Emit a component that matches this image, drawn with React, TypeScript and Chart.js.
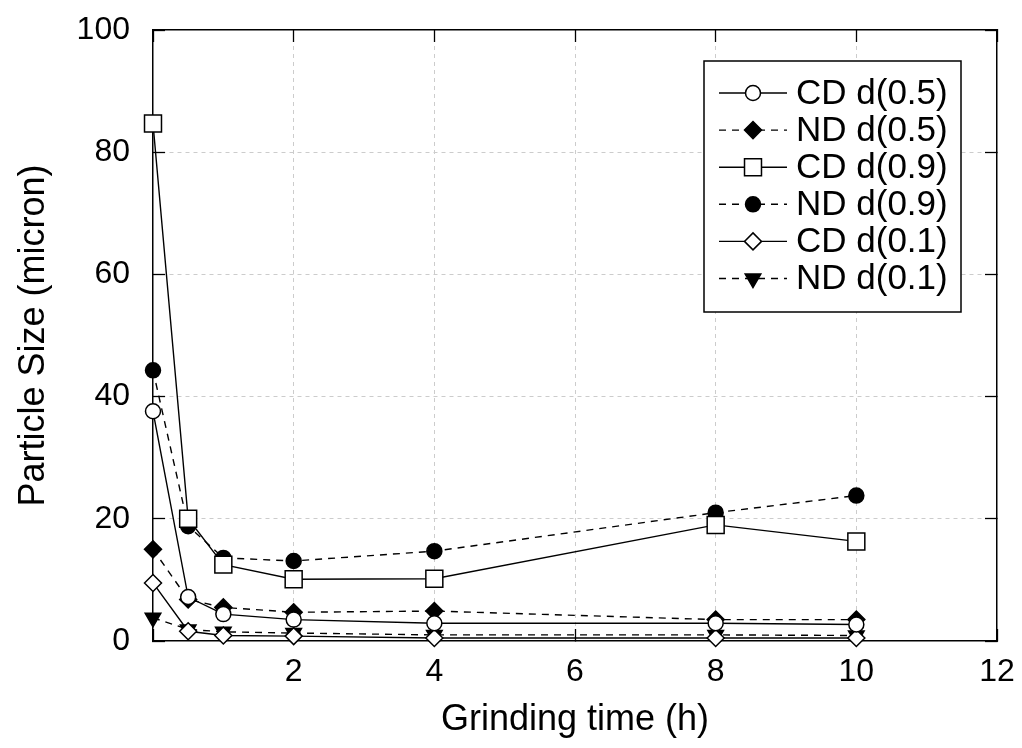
import React, { useEffect, useRef } from 'react';
import { Chart, registerables } from 'chart.js';

Chart.register(...registerables);

// ---- data ----
const grindingTime = [0, 0.5, 1, 2, 4, 8, 10];
const cdD05 = [37.6, 7.2, 4.4, 3.5, 2.9, 2.9, 2.7];
const ndD05 = [15.0, 6.8, 5.5, 4.7, 4.9, 3.5, 3.5];
const cdD09 = [84.7, 20.0, 12.5, 10.1, 10.2, 19.0, 16.3];
const ndD09 = [44.3, 18.8, 13.6, 13.1, 14.7, 21.0, 23.8];
const cdD01 = [9.5, 1.6, 0.9, 0.8, 0.5, 0.5, 0.5];
const ndD01 = [3.8, 1.9, 1.5, 1.3, 1.0, 1.0, 0.9];
const seriesLabels = ['CD d(0.5)', 'ND d(0.5)', 'CD d(0.9)', 'ND d(0.9)', 'CD d(0.1)', 'ND d(0.1)'];
const seriesValues = [cdD05, ndD05, cdD09, ndD09, cdD01, ndD01];
const xAxisTitle = 'Grinding time (h)';
const yAxisTitle = 'Particle Size (micron)';
const xMin = 0, xMax = 12, xStep = 2;
const yMin = 0, yMax = 100, yStep = 20;

// ---- styles ----
const FONT = "'Liberation Sans', Arial, Helvetica, sans-serif";
type SeriesStyle = { pointStyle: string; radius: number; filled: boolean; dashed: boolean; rotation: number };
const seriesStyles: SeriesStyle[] = [
  { pointStyle: 'circle', radius: 7.5, filled: false, dashed: false, rotation: 0 },
  { pointStyle: 'rectRot', radius: 8.5, filled: true, dashed: true, rotation: 0 },
  { pointStyle: 'rect', radius: 12, filled: false, dashed: false, rotation: 0 },
  { pointStyle: 'circle', radius: 7.5, filled: true, dashed: true, rotation: 0 },
  { pointStyle: 'rectRot', radius: 8.5, filled: false, dashed: false, rotation: 0 },
  { pointStyle: 'triangle', radius: 9, filled: true, dashed: true, rotation: 180 },
];
const DASH = [7, 6];

function drawMarker(ctx: CanvasRenderingContext2D, st: SeriesStyle, x: number, y: number) {
  const r = st.radius;
  ctx.save();
  ctx.beginPath();
  if (st.pointStyle === 'circle') {
    ctx.arc(x, y, r, 0, Math.PI * 2);
  } else if (st.pointStyle === 'rect') {
    const s = r * Math.SQRT1_2;
    ctx.rect(x - s, y - s, 2 * s, 2 * s);
  } else if (st.pointStyle === 'rectRot') {
    ctx.moveTo(x, y - r);
    ctx.lineTo(x + r, y);
    ctx.lineTo(x, y + r);
    ctx.lineTo(x - r, y);
    ctx.closePath();
  } else if (st.pointStyle === 'triangle') {
    let rad = (st.rotation * Math.PI) / 180;
    ctx.moveTo(x + Math.sin(rad) * r, y - Math.cos(rad) * r);
    rad += (2 * Math.PI) / 3;
    ctx.lineTo(x + Math.sin(rad) * r, y - Math.cos(rad) * r);
    rad += (2 * Math.PI) / 3;
    ctx.lineTo(x + Math.sin(rad) * r, y - Math.cos(rad) * r);
    ctx.closePath();
  }
  ctx.setLineDash([]);
  ctx.fillStyle = st.filled ? '#000' : '#fff';
  ctx.strokeStyle = '#000';
  ctx.lineWidth = 1.5;
  ctx.fill();
  ctx.stroke();
  ctx.restore();
}

const boxLegendPlugin = {
  id: 'boxLegend',
  afterDatasetsDraw(chart: any) {
    const ctx: CanvasRenderingContext2D = chart.ctx;
    const bx = 704, by = 61, bw = 257, bh = 251;
    ctx.save();
    ctx.fillStyle = '#fff';
    ctx.fillRect(bx, by, bw, bh);
    ctx.strokeStyle = '#000';
    ctx.lineWidth = 1.5;
    ctx.strokeRect(bx, by, bw, bh);
    const rowY0 = 93, rowStep = 37.1;
    chart.data.datasets.forEach((ds: any, i: number) => {
      const st = seriesStyles[i];
      const y = rowY0 + i * rowStep;
      ctx.save();
      ctx.beginPath();
      ctx.strokeStyle = '#000';
      ctx.lineWidth = 1.4;
      ctx.setLineDash(st.dashed ? DASH : []);
      ctx.moveTo(719, y);
      ctx.lineTo(787, y);
      ctx.stroke();
      ctx.restore();
      drawMarker(ctx, st, 753, y);
      ctx.fillStyle = '#000';
      ctx.font = `35px ${FONT}`;
      ctx.textAlign = 'left';
      ctx.textBaseline = 'middle';
      ctx.fillText(ds.label, 796, y + 1);
    });
    ctx.restore();
  },
};

export default function App() {
  const canvasRef = useRef<HTMLCanvasElement | null>(null);

  useEffect(() => {
    document.body.style.margin = '0';
    const canvas = canvasRef.current;
    if (!canvas) return;

    const datasets = seriesValues.map((vals, i) => {
      const st = seriesStyles[i];
      return {
        label: seriesLabels[i],
        data: grindingTime.map((x, j) => ({ x, y: vals[j] })),
        showLine: true,
        borderColor: '#000',
        borderWidth: 1.4,
        borderDash: st.dashed ? DASH : [],
        tension: 0,
        fill: false,
        pointStyle: st.pointStyle,
        pointRadius: st.radius,
        pointRotation: st.rotation,
        pointBackgroundColor: st.filled ? '#000' : '#fff',
        pointBorderColor: '#000',
        pointBorderWidth: 1.5,
        clip: false,
      };
    });

    const gridColor = '#cccccc';
    const tickFont = { family: FONT, size: 32 };
    const titleFont = { family: FONT, size: 36 };
    const noPadH = (s: any) => { s.paddingLeft = 0; s.paddingRight = 0; };
    const noPadV = (s: any) => { s.paddingTop = 0; s.paddingBottom = 0; };

    const chart = new Chart(canvas, {
      type: 'scatter',
      data: { datasets } as any,
      options: {
        responsive: false,
        animation: false,
        events: [],
        layout: { padding: 0 },
        plugins: { legend: { display: false }, tooltip: { enabled: false } },
        scales: {
          x: {
            type: 'linear',
            position: 'bottom',
            min: xMin,
            max: xMax,
            ticks: {
              stepSize: xStep,
              color: '#000',
              font: tickFont,
              padding: 24,
              maxRotation: 0,
              autoSkip: false,
              callback: (v: any) => (v === 0 ? '' : String(v)),
            },
            grid: {
              color: (c: any) => (c.tick && (c.tick.value === xMin || c.tick.value === xMax) ? 'rgba(0,0,0,0)' : gridColor),
              lineWidth: 1,
              tickLength: -12,
              tickColor: '#000',
              tickWidth: 1.3,
            },
            border: { display: true, color: '#000', width: 1.5, dash: [4, 4] },
            title: { display: true, text: xAxisTitle, color: '#000', font: titleFont, padding: { top: 0, bottom: 6 } },
            afterFit: (s: any) => { s.height = 107; noPadH(s); },
          },
          x2: {
            type: 'linear',
            position: 'top',
            min: xMin,
            max: xMax,
            ticks: { stepSize: xStep, display: false },
            grid: { drawOnChartArea: false, tickLength: -12, tickColor: '#000', tickWidth: 1.3 },
            border: { display: true, color: '#000', width: 1.5 },
            afterFit: (s: any) => { s.height = 30; noPadH(s); },
          },
          y: {
            type: 'linear',
            position: 'left',
            min: yMin,
            max: yMax,
            ticks: { stepSize: yStep, color: '#000', font: tickFont, padding: 35 },
            grid: {
              color: (c: any) => (c.tick && (c.tick.value === yMin || c.tick.value === yMax) ? 'rgba(0,0,0,0)' : gridColor),
              lineWidth: 1,
              tickLength: -12,
              tickColor: '#000',
              tickWidth: 1.3,
            },
            border: { display: true, color: '#000', width: 1.5, dash: [4, 4] },
            title: { display: true, text: yAxisTitle, color: '#000', font: titleFont, padding: { top: 12, bottom: 0 } },
            afterFit: (s: any) => { s.width = 153; noPadV(s); },
          },
          y2: {
            type: 'linear',
            position: 'right',
            min: yMin,
            max: yMax,
            ticks: { stepSize: yStep, display: false },
            grid: { drawOnChartArea: false, tickLength: -12, tickColor: '#000', tickWidth: 1.3 },
            border: { display: true, color: '#000', width: 1.5 },
            afterFit: (s: any) => { s.width = 25; noPadV(s); },
          },
        },
      } as any,
      plugins: [boxLegendPlugin],
    });

    return () => chart.destroy();
  }, []);

  return (
    <div style={{ width: 1022, height: 748, background: '#fff' }}>
      <canvas ref={canvasRef} width={1022} height={748} style={{ display: 'block' }} />
    </div>
  );
}
